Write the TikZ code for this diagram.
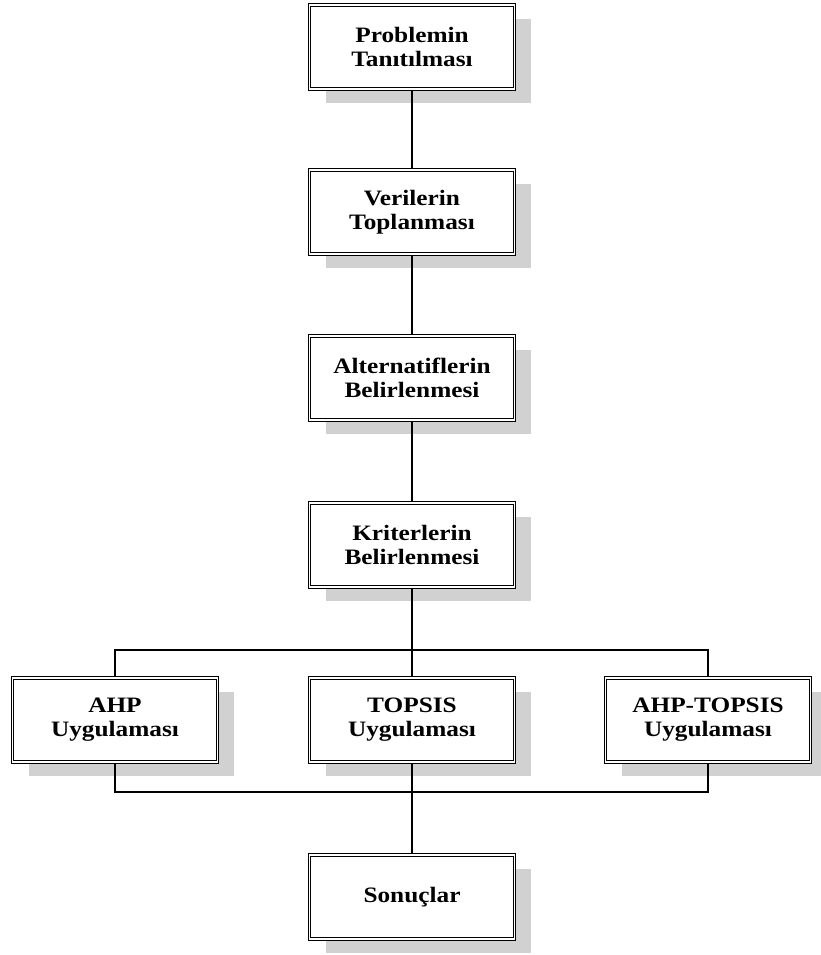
\documentclass[tikz,border=0pt]{standalone}
\usepackage{fontspec}
\setmainfont[FakeStretch=1.15]{Liberation Serif}
\usetikzlibrary{shadows}

\tikzset{
	stepbox/.style={draw, double, double distance=1.6pt, line width=1.1pt,
		fill=white, minimum width=205pt, minimum height=84pt, align=center,
		font=\bfseries\fontsize{22}{24}\selectfont,
		drop shadow={shadow xshift=16pt, shadow yshift=-14pt,
			fill=black!18, opacity=1}},
	link/.style={line width=1.2pt}
}

\begin{document}
\begin{tikzpicture}[x=1pt, y=-1pt]
	\useasboundingbox (0, 0) rectangle (821, 955);

	% main chain
	\node[stepbox] (problem) at (412, 47) {Problemin\\Tanıtılması};
	\node[stepbox] (data) at (412, 212) {Verilerin\\Toplanması};
	\node[stepbox] (alt) at (412, 378) {Alternatiflerin\\Belirlenmesi};
	\node[stepbox] (crit) at (412, 545) {Kriterlerin\\Belirlenmesi};

	% methods
	\node[stepbox] (ahp) at (115, 720) {AHP\\Uygulaması};
	\node[stepbox] (topsis) at (412, 720) {TOPSIS\\Uygulaması};
	\node[stepbox] (hybrid) at (708, 720) {AHP-TOPSIS\\Uygulaması};

	\node[stepbox] (result) at (412, 897) {Sonuçlar};

	\coordinate (split) at (412, 650);
	\coordinate (join) at (412, 792);

	\draw[link] (problem) -- (data);
	\draw[link] (data) -- (alt);
	\draw[link] (alt) -- (crit);
	\draw[link] (crit) -- (split);

	\draw[link] (ahp.north) |- (split) -| (hybrid.north);
	\draw[link] (split) -- (topsis.north);

	\draw[link] (ahp.south) |- (join) -| (hybrid.south);
	\draw[link] (topsis.south) -- (join) -- (result.north);

\end{tikzpicture}
\end{document}
